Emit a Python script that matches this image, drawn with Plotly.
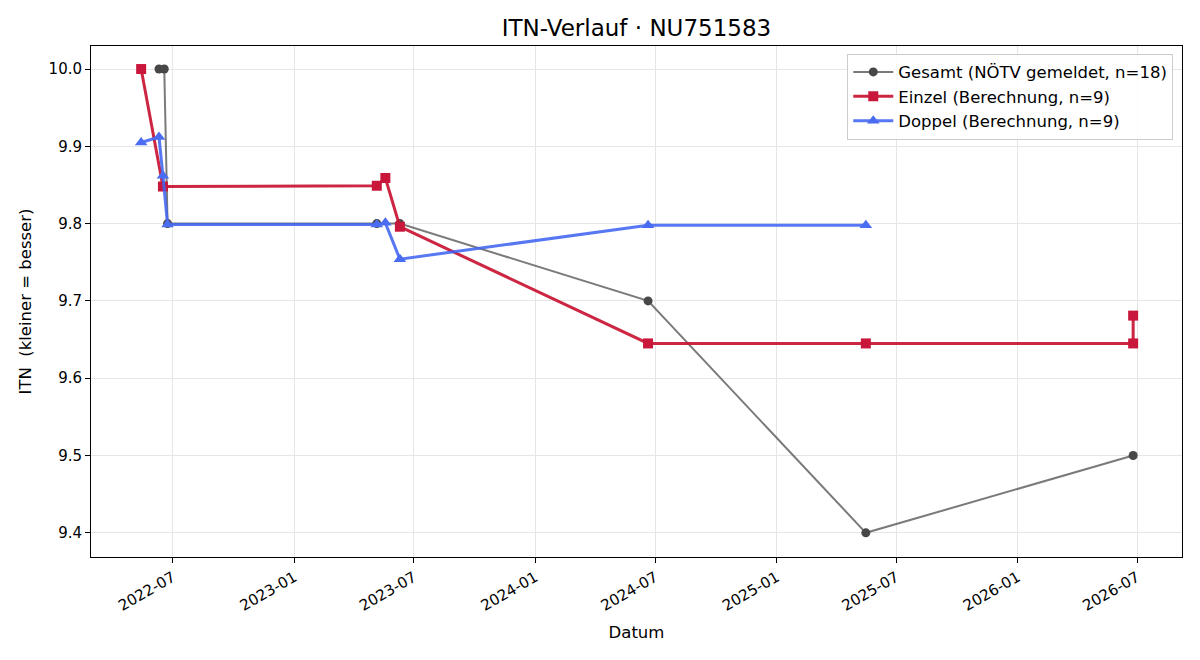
import plotly.graph_objects as go

gesamt_dates = ['2022-06-10', '2022-06-18', '2022-06-23', '2023-05-06', '2023-06-10',
                '2024-06-20', '2025-05-16', '2026-06-25']
gesamt_vals = [10.0, 10.0, 9.8, 9.8, 9.8, 9.7, 9.4, 9.5]

einzel_dates = ['2022-05-14', '2022-06-16', '2023-05-06', '2023-05-19', '2023-06-10',
                '2024-06-20', '2025-05-16', '2026-06-25', '2026-06-25']
einzel_vals = [10.0, 9.848, 9.849, 9.859, 9.796, 9.645, 9.645, 9.645, 9.681]

doppel_dates = ['2022-05-14', '2022-06-10', '2022-06-16', '2022-06-23', '2023-05-06',
                '2023-05-19', '2023-06-10', '2024-06-20', '2025-05-16']
doppel_vals = [9.905, 9.912, 9.862, 9.799, 9.799, 9.801, 9.754, 9.798, 9.798]

tick_dates = ['2022-07-01', '2023-01-01', '2023-07-01', '2024-01-01', '2024-07-01',
              '2025-01-01', '2025-07-01', '2026-01-01', '2026-07-01']
tick_labels = ['2022-07', '2023-01', '2023-07', '2024-01', '2024-07',
               '2025-01', '2025-07', '2026-01', '2026-07']
y_ticks = [9.4, 9.5, 9.6, 9.7, 9.8, 9.9, 10.0]

FONT = "DejaVu Sans"

fig = go.Figure()
fig.add_trace(go.Scatter(
    x=gesamt_dates, y=gesamt_vals, mode='lines+markers',
    name='Gesamt (NÖTV gemeldet, n=18)',
    line=dict(color='rgba(70,70,70,0.72)', width=2),
    marker=dict(symbol='circle', size=9, color='#474747'),
))
fig.add_trace(go.Scatter(
    x=einzel_dates, y=einzel_vals, mode='lines+markers',
    name='Einzel (Berechnung, n=9)',
    line=dict(color='rgba(200,20,50,0.92)', width=3),
    marker=dict(symbol='square', size=10, color='#c8173a'),
))
fig.add_trace(go.Scatter(
    x=doppel_dates, y=doppel_vals, mode='lines+markers',
    name='Doppel (Berechnung, n=9)',
    line=dict(color='rgba(65,100,240,0.88)', width=3),
    marker=dict(symbol='triangle-up', size=11, color='#4a6cf0'),
))

axis_common = dict(
    showline=True, linecolor='black', linewidth=1, mirror=True,
    ticks='outside', ticklen=5, tickcolor='black',
    showgrid=True, gridcolor='#e6e6e6', gridwidth=1,
    zeroline=False, tickfont=dict(family=FONT, size=15, color='black'),
)

fig.update_layout(
    width=1200, height=660,
    margin=dict(l=91, r=18, t=46, b=103),
    paper_bgcolor='white', plot_bgcolor='white',
    font=dict(family=FONT, color='black'),
    title=dict(text='ITN-Verlauf · NU751583', x=0.5 * (91 + 1182) / 1200, xanchor='center',
               y=1 - 28 / 660, yanchor='middle', font=dict(family=FONT, size=23, color='black')),
    xaxis=dict(
        **axis_common, type='date', range=['2022-02-27', '2026-09-07'],
        tickvals=tick_dates, ticktext=tick_labels, tickangle=-30,
        title=dict(text='Datum', font=dict(family=FONT, size=16.5), standoff=12),
    ),
    yaxis=dict(
        **axis_common, range=[9.3687, 10.0298], tickvals=y_ticks, tickformat='.1f',
        title=dict(text='ITN\u00a0 (kleiner = besser)', font=dict(family=FONT, size=16.5), standoff=12),
    ),
    legend=dict(
        x=0.992, xanchor='right', y=0.985, yanchor='top',
        bgcolor='rgba(255,255,255,0.85)', bordercolor='#cccccc', borderwidth=1,
        font=dict(family=FONT, size=16.5, color='black'),
        itemwidth=40, tracegroupgap=0,
    ),
    showlegend=True,
)

fig.write_html("out.html")
